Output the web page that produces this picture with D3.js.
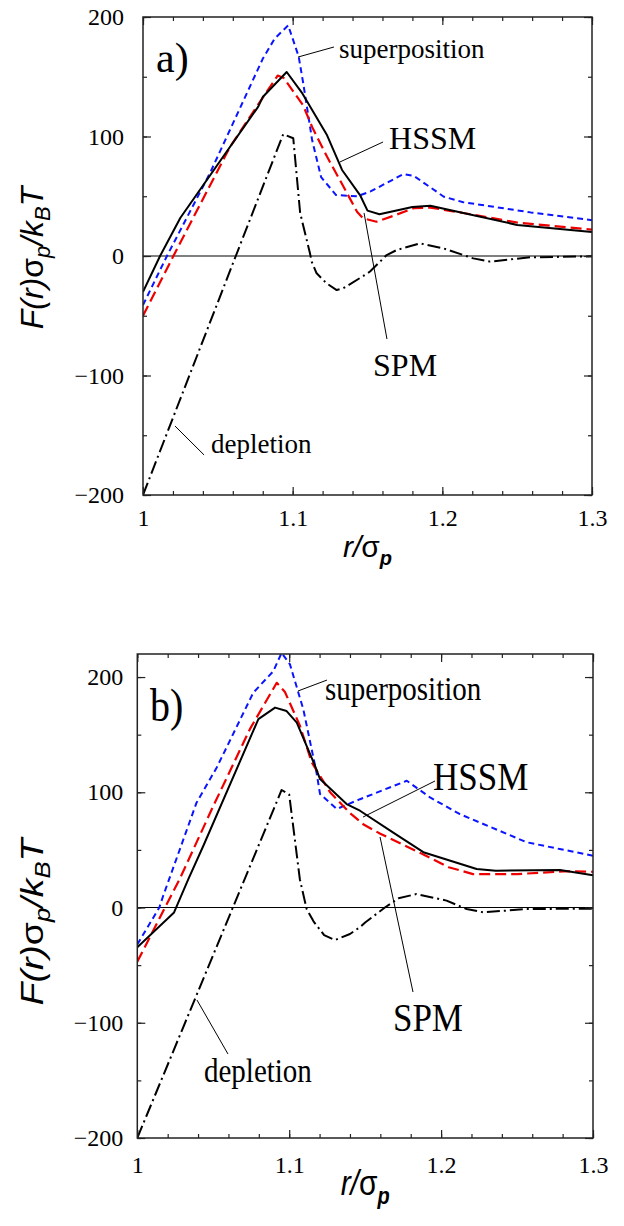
<!DOCTYPE html>
<html><head><meta charset="utf-8">
<script src="https://cdn.jsdelivr.net/npm/d3@7"></script>
<style>body{margin:0;background:#fff}</style>
</head><body>
<script>
// ---------- data (r/σp, F σp / kBT) ----------
const xTicks = [1, 1.1, 1.2, 1.3];
const xTickLabels = ["1", "1.1", "1.2", "1.3"];
const yTicks = [-200, -100, 0, 100, 200];
const yTickLabels = ["\u2212200", "\u2212100", "0", "100", "200"];

// panel a)
const aHSSM = [[1.000,-30],[1.0114,0],[1.025,32],[1.077,125],[1.080,133],[1.096,154],[1.106,137],[1.123,101],[1.133,72],[1.145,51],[1.150,38],[1.158,35],[1.180,41],[1.192,42],[1.214,36],[1.250,26],[1.300,20]];
const aSPM = [[1.000,-50],[1.0203,0],[1.058,91],[1.076,125],[1.090,151],[1.094,149],[1.107,126],[1.113,108],[1.123,83],[1.134,58],[1.143,37],[1.147,31.5],[1.156,28.7],[1.167,33.5],[1.181,40],[1.192,40.5],[1.214,36],[1.250,28],[1.300,22]];
const aSuper = [[1.000,-41],[1.016,0],[1.045,70],[1.080,165],[1.088,182],[1.097,193],[1.104,167],[1.107,145],[1.113,97],[1.119,66],[1.129,51],[1.143,50],[1.152,54],[1.174,68.6],[1.181,67],[1.201,49.6],[1.214,45],[1.259,36.5],[1.300,30]];
const aDepl = [[1.000,-200],[1.062,0],[1.0937,102],[1.1004,98.5],[1.105,36],[1.1116,2],[1.1127,-4.7],[1.116,-14.5],[1.1227,-22.9],[1.1294,-28.5],[1.1338,-27],[1.1472,-16.7],[1.1517,-13],[1.1628,0.8],[1.1695,5],[1.1851,10.6],[1.2006,6.4],[1.2207,-2],[1.2318,-4.7],[1.2586,-1.1],[1.300,-0.3]];

// panel b)
const bHSSM = [[1.000,-34.6],[1.0242,-4.3],[1.0336,24.7],[1.0435,53.6],[1.0797,163.5],[1.0907,173.5],[1.0983,170.5],[1.105,160.5],[1.117,123],[1.1203,111.5],[1.1378,89.8],[1.1466,84],[1.1685,65],[1.1883,48],[1.2234,33.4],[1.236,32],[1.2783,32.5],[1.300,28]];
const bSPM = [[1.000,-47],[1.0182,0],[1.028,25],[1.050,88],[1.0742,155],[1.0918,195],[1.0972,187],[1.107,158],[1.1148,126],[1.1269,100],[1.140,82],[1.149,72],[1.160,64],[1.190,45],[1.205,35],[1.221,29],[1.250,29],[1.283,31.5],[1.300,31]];
const bSuper = [[1.000,-32],[1.0145,0],[1.017,10],[1.039,91],[1.0523,121.5],[1.0764,186.5],[1.0895,205],[1.095,221],[1.1005,211],[1.1093,172],[1.118,117],[1.1203,98.5],[1.1313,85.5],[1.1466,94],[1.1774,110],[1.1927,95.6],[1.2124,81],[1.2278,72.5],[1.2564,56.6],[1.278,50.8],[1.300,45]];
const bDepl = [[1.000,-200],[1.0629,0],[1.095,102],[1.100,98],[1.107,24.6],[1.1115,-1.3],[1.116,-12],[1.123,-24],[1.1302,-28.2],[1.140,-23],[1.1466,-17],[1.150,-13],[1.163,0],[1.172,8],[1.1837,11.7],[1.2036,6],[1.2168,-1.3],[1.2278,-4.2],[1.2564,-1.3],[1.300,-1]];

// annotation labels: [text, textR, textF, leaderR1, leaderF1, leaderR2, leaderF2, fontSize]
const aNotes = [
  ["superposition", 1.131, 165.5, 1.1036, 166.5, 1.1276, 174.9, 27],
  ["HSSM", 1.1644, 89.5, 1.1316, 78.7, 1.1604, 95.4, 32],
  ["SPM", 1.1537, -100.4, 1.1477, 36, 1.163, -69.5, 32],
  ["depletion", 1.0454, -164.9, 1.0214, -142.3, 1.0408, -166.5, 27]
];
const bNotes = [
  ["superposition", 1.1236, 180, 1.1058, 187.9, 1.1249, 197.4, 29],
  ["HSSM", 1.1947, 102, 1.1486, 78.5, 1.1960, 109.8, 35],
  ["SPM", 1.1683, -107.2, 1.1598, 61.2, 1.1815, -73.3, 35],
  ["depletion", 1.0439, -151.4, 1.0393, -80.3, 1.0597, -127.1, 29]
];

const svg = d3.select("body").append("svg").attr("width", 624).attr("height", 1226);
const serif = "'Liberation Serif', 'Times New Roman', serif";
const sans = "'Liberation Sans', Arial, sans-serif";

function panel(cfg) {
  const x = d3.scaleLinear().domain([1, 1.3]).range([cfg.left, cfg.right]);
  const y = d3.scaleLinear().domain(cfg.yDomain).range([cfg.bottom, cfg.top]);
  const g = svg.append("g");
  const cid = "clip" + cfg.id;
  g.append("clipPath").attr("id", cid).append("rect")
    .attr("x", cfg.left).attr("y", cfg.top)
    .attr("width", cfg.right - cfg.left).attr("height", cfg.bottom - cfg.top);

  // zero line
  g.append("line").attr("x1", x(1)).attr("x2", x(1.3)).attr("y1", y(0)).attr("y2", y(0))
    .attr("stroke", "#000").attr("stroke-width", 1.2);

  const line = d3.line().x(d => x(d[0])).y(d => y(d[1]));
  const series = [
    {d: cfg.depl, c: "#000", w: 2, dash: "13,4,2,4"},
    {d: cfg.sup, c: "#0a14ff", w: 2, dash: "6,4"},
    {d: cfg.spm, c: "#ee0000", w: 2.2, dash: "11,5"},
    {d: cfg.hssm, c: "#000", w: 2, dash: null}
  ];
  const lg = g.append("g").attr("clip-path", `url(#${cid})`);
  series.forEach(s => {
    lg.append("path").attr("d", line(s.d)).attr("fill", "none")
      .attr("stroke", s.c).attr("stroke-width", s.w)
      .attr("stroke-linejoin", "round")
      .attr("stroke-dasharray", s.dash);
  });

  // axes (ticks inward on all sides)
  const minorX = d3.range(1, 1.3001, 0.02);
  const minorY = d3.range(-200, 200.001, 50);
  function styleAx(sel) {
    sel.select(".domain").remove();
    sel.selectAll("line").attr("stroke", "#222").attr("stroke-width", 1.2);
  }
  g.append("g").attr("transform", `translate(0,${cfg.bottom})`)
    .call(d3.axisBottom(x).tickValues(minorX).tickSize(-4).tickFormat("")).call(styleAx);
  g.append("g").attr("transform", `translate(0,${cfg.top})`)
    .call(d3.axisTop(x).tickValues(minorX).tickSize(-4).tickFormat("")).call(styleAx);
  g.append("g").attr("transform", `translate(${cfg.left},0)`)
    .call(d3.axisLeft(y).tickValues(minorY).tickSize(-4).tickFormat("")).call(styleAx);
  g.append("g").attr("transform", `translate(${cfg.right},0)`)
    .call(d3.axisRight(y).tickValues(minorY).tickSize(-4).tickFormat("")).call(styleAx);

  const xb = g.append("g").attr("transform", `translate(0,${cfg.bottom})`)
    .call(d3.axisBottom(x).tickValues(xTicks).tickSize(-8).tickPadding(cfg.xPad)
      .tickFormat((d, i) => xTickLabels[i])).call(styleAx);
  g.append("g").attr("transform", `translate(0,${cfg.top})`)
    .call(d3.axisTop(x).tickValues(xTicks).tickSize(-8).tickFormat("")).call(styleAx);
  const yl = g.append("g").attr("transform", `translate(${cfg.left},0)`)
    .call(d3.axisLeft(y).tickValues(yTicks).tickSize(-8).tickPadding(cfg.yPad)
      .tickFormat((d, i) => yTickLabels[i])).call(styleAx);
  g.append("g").attr("transform", `translate(${cfg.right},0)`)
    .call(d3.axisRight(y).tickValues(yTicks).tickSize(-8).tickFormat("")).call(styleAx);
  [xb, yl].forEach(a => a.selectAll("text").attr("fill", "#000")
    .style("font-family", serif).style("font-size", "24px"));

  // frame
  g.append("rect").attr("x", cfg.left).attr("y", cfg.top)
    .attr("width", cfg.right - cfg.left).attr("height", cfg.bottom - cfg.top)
    .attr("fill", "none").attr("stroke", "#222").attr("stroke-width", 1.5);

  // annotations
  cfg.notes.forEach(n => {
    g.append("line").attr("x1", x(n[3])).attr("y1", y(n[4])).attr("x2", x(n[5])).attr("y2", y(n[6]))
      .attr("stroke", "#000").attr("stroke-width", 1);
    g.append("text").attr("transform", `translate(${x(n[1])},${y(n[2])}) scale(1,${cfg.ts})`)
      .style("font-family", serif).style("font-size", n[7] + "px").text(n[0]);
  });
  g.append("text").attr("transform", `translate(${x(cfg.tag[1])},${y(cfg.tag[2])}) scale(1,${cfg.ts})`)
    .style("font-family", serif).style("font-size", cfg.tag[3] + "px").text(cfg.tag[0]);

  // y title
  const yt = g.append("text")
    .attr("transform", `translate(${cfg.ytX},${cfg.ytY}) rotate(-90) scale(${cfg.ts},1)`)
    .attr("text-anchor", "middle")
    .style("font-family", sans).style("font-style", "italic").style("font-size", "32px");
  yt.append("tspan").text("F(r)");
  yt.append("tspan").style("font-style", "normal").text("\u03c3");
  yt.append("tspan").attr("dy", 7).style("font-size", "22px").text("p");
  yt.append("tspan").attr("dy", -7).text("/k");
  yt.append("tspan").attr("dy", 7).style("font-size", "22px").text("B");
  yt.append("tspan").attr("dy", -7).text("T");

  // x title
  const xt = g.append("text")
    .attr("transform", `translate(${(cfg.left + cfg.right) / 2},${cfg.xtY}) scale(1,${cfg.ts})`)
    .attr("text-anchor", "middle")
    .style("font-family", sans).style("font-style", "italic").style("font-size", "30px");
  xt.append("tspan").text("r/");
  xt.append("tspan").style("font-style", "normal").text("\u03c3");
  xt.append("tspan").attr("dy", 8).style("font-size", "20px").style("font-weight", "bold").text("p");
}

panel({id: "a", left: 143, right: 592, top: 17, bottom: 495, yDomain: [-200, 200],
  hssm: aHSSM, spm: aSPM, sup: aSuper, depl: aDepl, notes: aNotes,
  tag: ["a)", 1.0087, 154, 42], ts: 1, xPad: 14, yPad: 19, ytX: 43, ytY: 258, xtY: 557});
panel({id: "b", left: 137.3, right: 593, top: 654, bottom: 1138, yDomain: [-200, 220],
  hssm: bHSSM, spm: bSPM, sup: bSuper, depl: bDepl, notes: bNotes,
  tag: ["b)", 1.0084, 161.8, 40], ts: 1.17, xPad: 18, yPad: 14, ytX: 43, ytY: 922, xtY: 1195});
</script>
</body></html>
